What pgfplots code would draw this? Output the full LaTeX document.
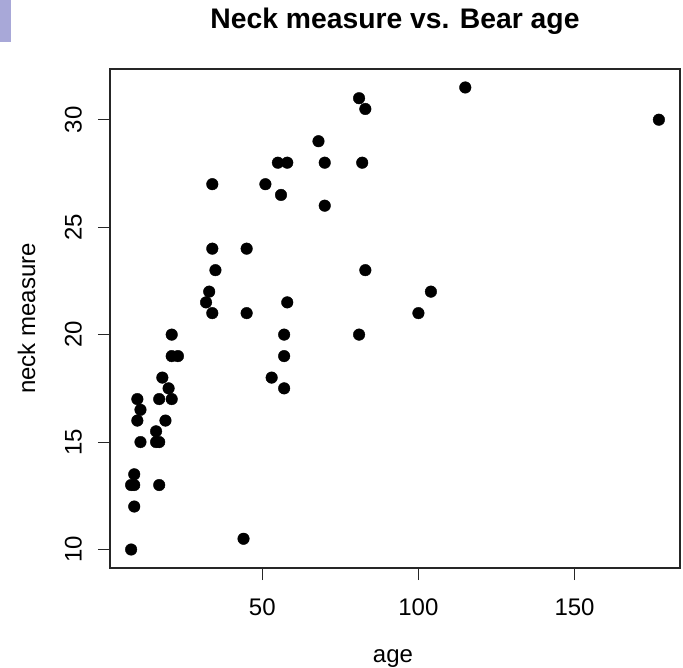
\documentclass[border=0pt]{standalone}
\usepackage{fontspec}
\setmainfont{Liberation Sans}
\usepackage{pgfplots}
\pgfplotsset{compat=1.18}

\definecolor{tabblock}{RGB}{168,168,216}

\begin{document}
\begin{tikzpicture}
% fixed canvas, 1pt per pixel
\path[use as bounding box] (0,0) rectangle (683pt,667pt);
\fill[tabblock] (0,667pt) rectangle (11pt,625pt);

\begin{axis}[
  at={(110pt,99pt)}, anchor=south west,
  width=570pt, height=499pt, scale only axis,
  xmin=1.24, xmax=183.76, ymin=9.14, ymax=32.36,
  axis line style={line width=1.1pt, black!85},
  xtick={50,100,150}, ytick={10,15,20,25,30},
  xtick pos=bottom, ytick pos=left,
  tick align=outside, major tick length=12pt,
  tick style={line width=1.1pt, black!85},
  /pgf/number format/assume math mode=true,
  tick label style={font=\fontsize{24}{29}\selectfont, inner sep=0pt},
  xticklabel style={anchor=north},
  xticklabel shift=19pt,
  yticklabel style={rotate=90, anchor=south},
  yticklabel shift=16pt,
]
\addplot[only marks, mark=*, mark size=5.8pt, black] coordinates {
  (177,30) (115,31.5) (81,31) (83,30.5) (68,29)
  (55,28) (58,28) (70,28) (82,28)
  (34,27) (51,27) (56,26.5) (70,26)
  (34,24) (45,24) (35,23) (83,23)
  (33,22) (104,22) (32,21.5) (58,21.5)
  (34,21) (45,21) (100,21)
  (21,20) (57,20) (81,20)
  (21,19) (23,19) (57,19)
  (18,18) (53,18) (20,17.5) (57,17.5)
  (10,17) (17,17) (21,17) (11,16.5)
  (10,16) (19,16) (16,15.5)
  (11,15) (16,15) (17,15)
  (9,13.5) (8,13) (9,13) (17,13)
  (9,12) (44,10.5) (8,10)
};
\end{axis}

\node[anchor=base, font=\bfseries\fontsize{28.3}{34}\selectfont] at (395pt,638pt) {Neck measure vs. Bear age};
\node[anchor=base, font=\fontsize{24}{29}\selectfont] at (393pt,5pt) {age};
\node[anchor=base, rotate=90, font=\fontsize{24}{29}\selectfont] at (35pt,348.5pt) {neck measure};
\end{tikzpicture}
\end{document}
